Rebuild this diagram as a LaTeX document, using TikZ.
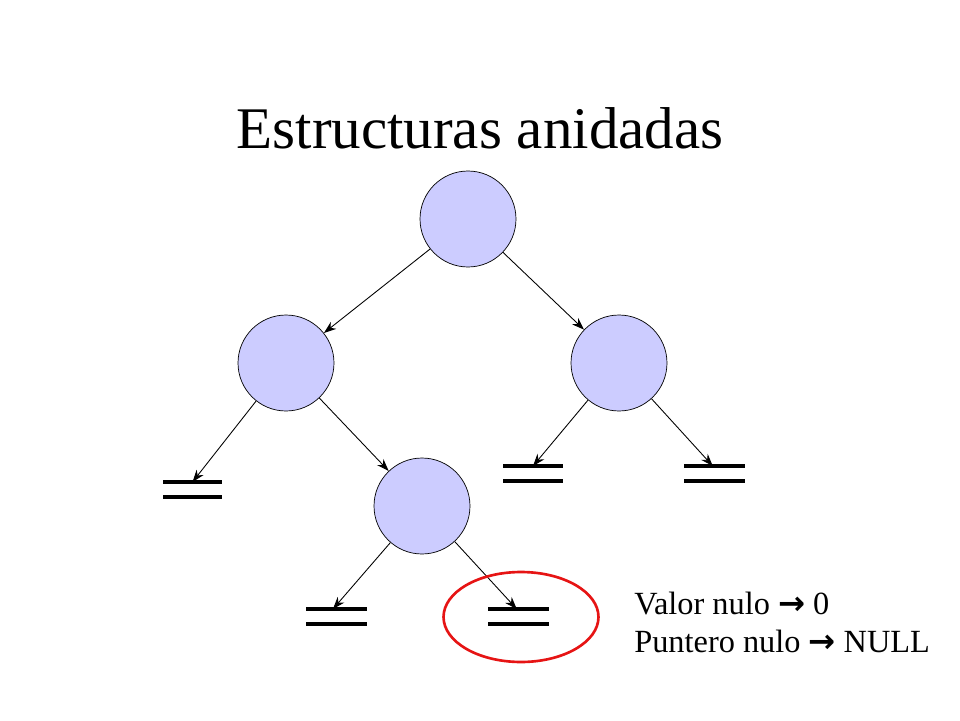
\documentclass[tikz,border=0pt]{standalone}
\usepackage{fontspec}
\setmainfont{Liberation Serif}
\newfontfamily\symfont{DejaVu Sans}
\usetikzlibrary{arrows.meta,shapes.geometric}
\begin{document}
\begin{tikzpicture}[x=0.02cm,y=-0.02cm,
  tnode/.style={circle,draw=black,fill={rgb,255:red,204;green,204;blue,255},minimum size=1.92cm,inner sep=0pt},
  conn/.style={-{Stealth[length=7pt,width=5pt]},line width=0.5pt},
  gline/.style={line width=2.2pt}]
\useasboundingbox (0,0) rectangle (960,720);
\node[font=\fontsize{33.6}{40}\selectfont] (title) at (480,128) {Estructuras anidadas};
\node[tnode] (r) at (468,219) {};
\node[tnode] (l) at (286,363) {};
\node[tnode] (rr) at (619,363) {};
\node[tnode] (m) at (422,506) {};
\newcommand{\gnd}[4]{% name, x1, x2, ytop
  \draw[gline] (#2,#4) -- (#3,#4);
  \draw[gline] (#2,#4+15) -- (#3,#4+15);
  \coordinate (#1) at ({(#2+#3)/2},#4);}
\gnd{g1}{163}{222}{482}
\gnd{g2}{503}{563}{466}
\gnd{g3}{684}{745}{466}
\gnd{b1}{306}{367}{609}
\gnd{b2}{488}{549}{609}
\draw[conn] (r) -- (l);
\draw[conn] (r) -- (rr);
\draw[conn] (l) -- (g1);
\draw[conn] (l) -- (m);
\draw[conn] (rr) -- (g2);
\draw[conn] (rr) -- ([xshift=-1]g3);
\draw[conn] (m) -- ([xshift=-2]b1);
\draw[conn] (m) -- ([xshift=-1]b2);
\node[draw={rgb,255:red,230;green,20;blue,20},line width=1.5pt,ellipse,minimum width=3.1cm,minimum height=1.8cm] (hl) at (521,617) {};
\node[anchor=north west,align=left,font=\fontsize{18.4}{21.6}\selectfont,inner sep=0pt] (txt) at (634,592)
 {Valor nulo {\symfont\bfseries →} 0\\Puntero nulo {\symfont\bfseries →} NULL};
\end{tikzpicture}
\end{document}
